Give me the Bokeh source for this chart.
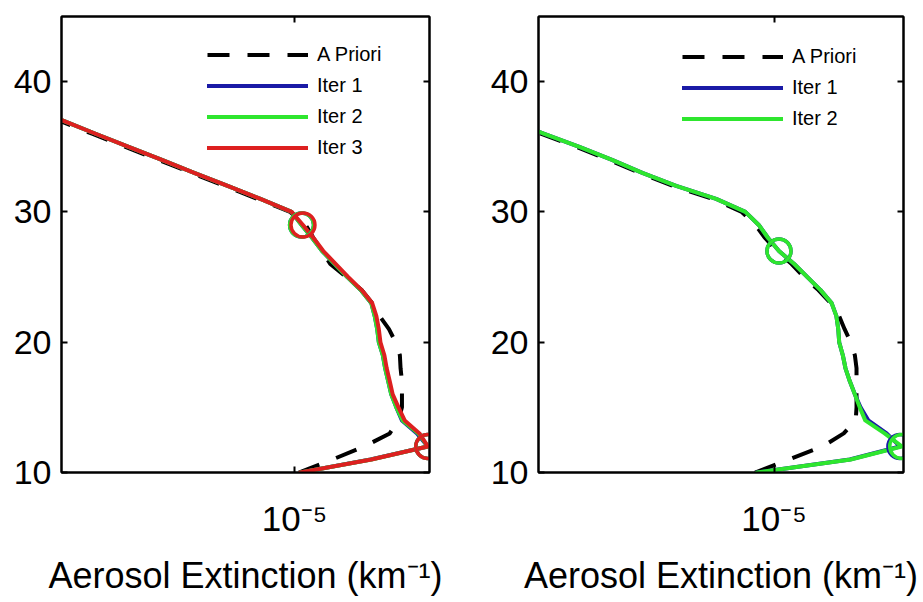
from bokeh.plotting import figure
from bokeh.models import (LinearAxis, LogAxis, FixedTicker, Legend, LegendItem,
                          CustomJSTickFormatter)
from bokeh.layouts import row
from bokeh.embed import file_html
from bokeh.resources import INLINE

# ---------------- data ----------------
altitude = [10, 11, 12, 13, 14, 15, 16, 17, 18, 19, 20, 21, 22, 23, 24,
            25, 26, 27, 28, 29, 30, 31, 32, 33, 34, 35, 36, 37, 38]

# left panel (km^-1)
left_apriori = [1.03e-5, 1.30e-5, 1.62e-5, 1.93e-5, 2.05e-5, 2.10e-5, 2.10e-5, 2.10e-5,
                2.08e-5, 2.07e-5, 2.01e-5, 1.92e-5, 1.80e-5, 1.71e-5, 1.59e-5, 1.43e-5,
                1.28e-5, 1.21e-5, 1.14e-5, 1.08e-5, 0.97e-5, 0.774e-5, 0.617e-5, 0.490e-5,
                0.390e-5, 0.311e-5, 0.247e-5, 0.197e-5, 0.157e-5]
left_iter1 = [1.04e-5, 1.69e-5, 2.51e-5, 2.33e-5, 2.10e-5, 2.02e-5, 1.95e-5, 1.91e-5,
              1.87e-5, 1.84e-5, 1.79e-5, 1.77e-5, 1.74e-5, 1.70e-5, 1.58e-5, 1.44e-5,
              1.32e-5, 1.21e-5, 1.13e-5, 1.05e-5, 0.98e-5, 0.79e-5, 0.63e-5, 0.50e-5,
              0.40e-5, 0.318e-5, 0.253e-5, 0.202e-5, 0.161e-5]
left_iter2 = [1.04e-5, 1.70e-5, 2.51e-5, 2.35e-5, 2.11e-5, 2.02e-5, 1.95e-5, 1.91e-5,
              1.87e-5, 1.84e-5, 1.79e-5, 1.77e-5, 1.74e-5, 1.70e-5, 1.58e-5, 1.44e-5,
              1.32e-5, 1.21e-5, 1.13e-5, 1.05e-5, 0.98e-5, 0.79e-5, 0.63e-5, 0.50e-5,
              0.40e-5, 0.318e-5, 0.253e-5, 0.202e-5, 0.161e-5]
left_iter3 = [1.04e-5, 1.70e-5, 2.51e-5, 2.37e-5, 2.14e-5, 2.05e-5, 1.97e-5, 1.93e-5,
              1.89e-5, 1.86e-5, 1.81e-5, 1.79e-5, 1.76e-5, 1.71e-5, 1.59e-5, 1.45e-5,
              1.33e-5, 1.22e-5, 1.14e-5, 1.06e-5, 0.98e-5, 0.79e-5, 0.63e-5, 0.50e-5,
              0.40e-5, 0.318e-5, 0.253e-5, 0.202e-5, 0.161e-5]
left_circle_alts = [29, 12]

# right panel (km^-1)
right_apriori = [0.877e-5, 1.11e-5, 1.40e-5, 1.62e-5, 1.76e-5, 1.77e-5, 1.77e-5, 1.77e-5,
                 1.77e-5, 1.75e-5, 1.70e-5, 1.63e-5, 1.57e-5, 1.48e-5, 1.36e-5, 1.23e-5,
                 1.13e-5, 1.02e-5, 0.94e-5, 0.88e-5, 0.80e-5, 0.655e-5, 0.497e-5, 0.394e-5,
                 0.319e-5, 0.254e-5, 0.200e-5, 0.158e-5, 0.124e-5]
right_iter1 = [0.889e-5, 1.69e-5, 2.39e-5, 2.18e-5, 1.92e-5, 1.82e-5, 1.75e-5, 1.69e-5,
               1.64e-5, 1.61e-5, 1.57e-5, 1.56e-5, 1.54e-5, 1.49e-5, 1.38e-5, 1.26e-5,
               1.15e-5, 1.035e-5, 0.96e-5, 0.90e-5, 0.82e-5, 0.670e-5, 0.508e-5, 0.402e-5,
               0.326e-5, 0.260e-5, 0.204e-5, 0.161e-5, 0.127e-5]
right_iter2 = [0.889e-5, 1.70e-5, 2.42e-5, 2.15e-5, 1.88e-5, 1.81e-5, 1.75e-5, 1.69e-5,
               1.64e-5, 1.61e-5, 1.57e-5, 1.56e-5, 1.54e-5, 1.49e-5, 1.38e-5, 1.26e-5,
               1.15e-5, 1.035e-5, 0.96e-5, 0.90e-5, 0.82e-5, 0.670e-5, 0.508e-5, 0.402e-5,
               0.326e-5, 0.260e-5, 0.204e-5, 0.161e-5, 0.127e-5]
right_circle_alts = [27, 12]

y_ticks = [10, 20, 30, 40]
x_tick = [1e-5]
x_tick_label = "10\u207b\u2075"
legend_names = ["A Priori", "Iter 1", "Iter 2", "Iter 3"]
x_axis_label = "Aerosol Extinction (km\u207b\u00b9)"

# ---------------- style ----------------
FONT = "Liberation Sans"
COLORS = ["#1a1aa6", "#2ee62e", "#dd2020"]
BLANK = "return ''"


def make_panel(width, borders, x_range, apriori, iters, circle_alts, legend_xy):
    left, right, top, bottom = borders
    p = figure(width=width, height=602, x_axis_type="log", x_range=x_range,
               y_range=(10, 45), output_backend="svg", toolbar_location=None,
               min_border_left=left, min_border_right=right,
               min_border_top=top, min_border_bottom=bottom)
    p.background_fill_color = "white"
    p.border_fill_color = "white"
    p.grid.visible = False
    p.outline_line_color = "black"
    p.outline_line_width = 2
    p.outline_line_alpha = 1

    xa = p.xaxis[0]
    xa.ticker = FixedTicker(ticks=x_tick)
    xa.formatter = CustomJSTickFormatter(code="return '%s'" % x_tick_label)
    xa.major_label_text_font = FONT
    xa.major_label_text_font_size = "35px"
    xa.major_label_text_color = "black"
    xa.major_label_standoff = 26
    xa.axis_label = x_axis_label
    xa.axis_label_text_font = FONT
    xa.axis_label_text_font_size = "36px"
    xa.axis_label_text_font_style = "normal"
    xa.axis_label_text_color = "black"
    xa.axis_label_standoff = 14

    ya = p.yaxis[0]
    ya.ticker = FixedTicker(ticks=y_ticks)
    ya.major_label_text_font = FONT
    ya.major_label_text_font_size = "34px"
    ya.major_label_text_color = "black"
    ya.major_label_standoff = 10

    top_ax = LogAxis(ticker=FixedTicker(ticks=x_tick),
                     formatter=CustomJSTickFormatter(code=BLANK))
    right_ax = LinearAxis(ticker=FixedTicker(ticks=y_ticks),
                          formatter=CustomJSTickFormatter(code=BLANK))
    p.add_layout(top_ax, "above")
    p.add_layout(right_ax, "right")
    for ax in (xa, ya, top_ax, right_ax):
        ax.major_tick_in = 6
        ax.major_tick_out = 0
        ax.major_tick_line_width = 2
        ax.major_tick_line_color = "black"
        ax.minor_tick_line_color = None
        ax.axis_line_width = 2
        ax.axis_line_color = "black"
    top_ax.major_label_standoff = 0
    right_ax.major_label_standoff = 0

    renderers = []
    r = p.line(apriori, altitude, line_color="black", line_width=4,
               line_dash="22 18", line_join="round")
    renderers.append(r)
    for vals, col in zip(iters, COLORS):
        r = p.line(vals, altitude, line_color=col, line_width=4,
                   line_join="round", line_cap="round")
        renderers.append(r)
    for vals, col in zip(iters, COLORS):
        cx = [vals[altitude.index(a)] for a in circle_alts]
        p.scatter(cx, circle_alts, marker="circle", size=24, fill_color=None,
                  line_color=col, line_width=3.5)

    items = [LegendItem(label=n, renderers=[r])
             for n, r in zip(legend_names, renderers)]
    legend = Legend(items=items, location=legend_xy, glyph_width=101,
                    glyph_height=31, label_height=31, label_standoff=9,
                    spacing=0, padding=0, margin=0, border_line_color=None,
                    background_fill_alpha=0, label_text_font=FONT,
                    label_text_font_size="20px", label_text_color="black")
    p.add_layout(legend)
    return p


p1 = make_panel(460, (61, 31, 13, 130), (2.0e-6, 2.54e-5), left_apriori,
                [left_iter1, left_iter2, left_iter3], left_circle_alts, (146, 309))
p2 = make_panel(463, (78, 20, 16, 129), (1.96e-6, 2.45e-5), right_apriori,
                [right_iter1, right_iter2], right_circle_alts, (144, 338))

layout = row(p1, p2)
open("out.html", "w").write(file_html(layout, INLINE))
